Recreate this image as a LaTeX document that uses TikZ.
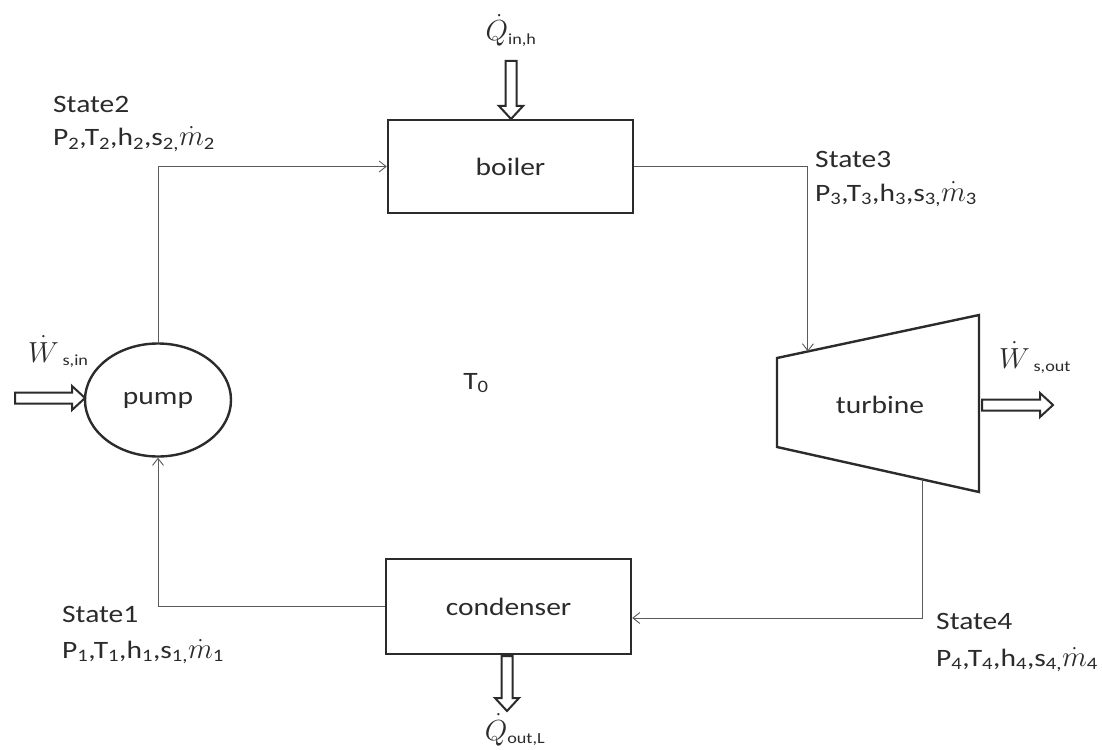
\documentclass[tikz,border=0pt]{standalone}
\usepackage{fix-cm}
\usepackage{fontspec}
\setmainfont{Carlito}[FakeStretch=1.18]
\usetikzlibrary{arrows.meta,calc,shapes.geometric}
\definecolor{ink}{HTML}{2B2B2B}
\definecolor{wire}{HTML}{5A5A5A}
\newcommand{\bigsym}[1]{{\fontsize{29}{30}\selectfont$#1$}}
\newcommand{\mdot}[1]{\bigsym{\dot{m}}\textsubscript{#1}}
\tikzset{
  every node/.style={font=\fontsize{25}{30}\selectfont, text=ink},
  unit/.style={draw=ink, line width=2.4pt, fill=white},
  boxunit/.style={unit, rectangle, minimum width=245pt, inner sep=0pt},
  flow/.style={draw=wire, line width=0.9pt, -{Straight Barb[length=7pt,width=11pt,line width=0.9pt]}},
  lbl/.style={anchor=base west, inner sep=0pt},
  qlbl/.style={font=\fontsize{22}{26}\selectfont, inner sep=0pt},
  hollow/.style={draw=ink, line width=2pt, fill=white, line join=miter},
  pics/harrow/.style={code={
    \draw[hollow] (0,-5.5) -- (#1-13,-5.5) -- (#1-13,-12) -- (#1,0)
      -- (#1-13,12) -- (#1-13,5.5) -- (0,5.5) -- cycle;}}
}
\begin{document}
\begin{tikzpicture}[x=1pt,y=-1pt]
\useasboundingbox[fill=white] (0,0) rectangle (1102,749);

% components
\node[boxunit, minimum height=93pt] (boiler) at (510.5,166.5) {boiler};
\node[boxunit, minimum height=95pt] (condenser) at (508.5,606.5) {condenser};
\node[unit, ellipse, minimum width=146pt, minimum height=113pt, inner sep=0pt] (pump) at (158,400) {pump};

\coordinate (t1) at (777,358);
\coordinate (t2) at (979,315);
\coordinate (t3) at (979,492);
\coordinate (t4) at (777,447);
\draw[unit, line join=miter] (t1) -- (t2) -- (t3) -- (t4) -- cycle;
\node (turbine) at (880,405) {turbine};
\coordinate (tin) at ($(t1)!0.153!(t2)$);
\coordinate (tout) at ($(t4)!0.72!(t3)$);

% flow connectors
\draw[flow] (pump.north) |- (boiler.west);
\draw[flow] (boiler.east) -| (tin);
\draw[flow] (tout) |- ([yshift=-11.5pt]condenser.east);
\draw[flow] (condenser.west) -| (pump.south);

% state labels
\node[lbl] (s2a) at (53,113) {State2};
\node[lbl] (s2b) at (53,146) {P\textsubscript{2},T\textsubscript{2},h\textsubscript{2},s\textsubscript{2,}\mdot{2}};
\node[lbl] (s3a) at (815,167) {State3};
\node[lbl] (s3b) at (815,201) {P\textsubscript{3},T\textsubscript{3},h\textsubscript{3},s\textsubscript{3,}\mdot{3}};
\node[lbl] (s4a) at (936,629) {State4};
\node[lbl] (s4b) at (936,666) {P\textsubscript{4},T\textsubscript{4},h\textsubscript{4},s\textsubscript{4,}\mdot{4}};
\node[lbl] (s1a) at (62,622) {State1};
\node[lbl] (s1b) at (62,658) {P\textsubscript{1},T\textsubscript{1},h\textsubscript{1},s\textsubscript{1,}\mdot{1}};

\node (t0) at (476,383) {T\textsubscript{0}};

% energy transfers (hollow arrows)
\coordinate (qin) at (511,61);
\pic[rotate=-90] at (qin) {harrow=58};
\coordinate (qout) at (507,656);
\pic[rotate=-90] at (qout) {harrow=55};
\coordinate (win) at (15,398);
\pic at (win) {harrow=70};
\coordinate (wout) at (982,405);
\pic at (wout) {harrow=71};

\node[qlbl, anchor=base] (qinl) at (511,41) {\bigsym{\dot{Q}}\textsubscript{in,h}};
\node[qlbl, anchor=base] (qoutl) at (515,740) {\bigsym{\dot{Q}}\textsubscript{out,L}};
\node[qlbl, anchor=base west] (winl) at (28,362) {\bigsym{\dot{W}}\,\textsubscript{s,in}};
\node[qlbl, anchor=base west] (woutl) at (999,368) {\bigsym{\dot{W}}\,\textsubscript{s,out}};
\end{tikzpicture}
\end{document}
